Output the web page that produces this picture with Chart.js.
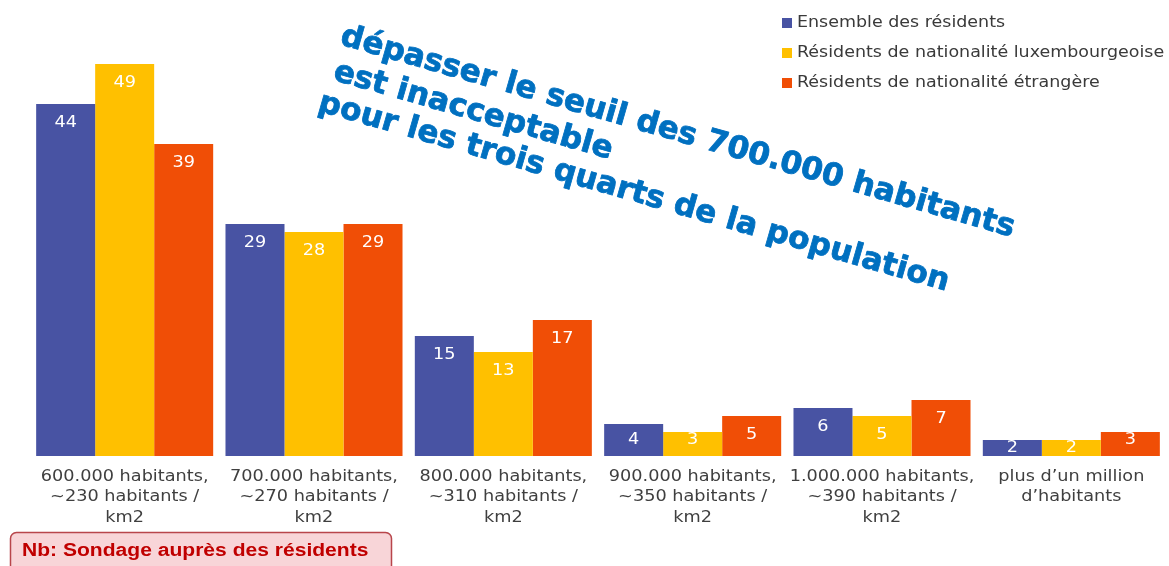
<!DOCTYPE html>
<html>
<head>
<meta charset="utf-8">
<script src="https://cdn.jsdelivr.net/npm/chart.js@4/dist/chart.umd.min.js"></script>
<style>
  html, body { margin: 0; padding: 0; background: #fff; }
  #wrap { position: relative; width: 1169px; height: 566px; }
</style>
</head>
<body>
<div id="wrap"><canvas id="chart" width="1169" height="566"></canvas></div>
<script>
const CATEGORIES = [
  ["600.000 habitants,", "~230 habitants /", "km2"],
  ["700.000 habitants,", "~270 habitants /", "km2"],
  ["800.000 habitants,", "~310 habitants /", "km2"],
  ["900.000 habitants,", "~350 habitants /", "km2"],
  ["1.000.000 habitants,", "~390 habitants /", "km2"],
  ["plus d\u2019un million", "d\u2019habitants"],
];
const SERIES_NAMES = [
  "Ensemble des résidents",
  "Résidents de nationalité luxembourgeoise",
  "Résidents de nationalité étrangère",
];
const ENSEMBLE = [44, 29, 15, 4, 6, 2];
const LUXEMBOURGEOIS = [49, 28, 13, 3, 5, 2];
const ETRANGERS = [39, 29, 17, 5, 7, 3];
const COLORS = ["#4853A3", "#FFC000", "#F04E06"];

const ANNOTATION = [
  "dépasser le seuil des 700.000 habitants",
  "est inacceptable",
  "pour les trois quarts de la population",
];
const NOTE = "Nb: Sondage auprès des résidents";

const FONT = "'DejaVu Sans', Verdana, sans-serif";
const STRETCH = 1.18; // le texte de l'original est élargi horizontalement

// texte élargi horizontalement autour de (x, y)
function wideText(ctx, txt, x, y, align, k){
  ctx.save();
  ctx.translate(x, y);
  ctx.scale(k || STRETCH, 1);
  ctx.textAlign = align || "left";
  ctx.fillText(txt, 0, 0);
  ctx.restore();
}

// valeurs blanches dans le haut des barres
const valueLabels = {
  id: "valueLabels",
  afterDatasetsDraw(chart){
    const ctx = chart.ctx;
    const base = chart.scales.y.getPixelForValue(0);
    ctx.save();
    ctx.fillStyle = "#fff";
    ctx.font = `15px ${FONT}`;
    ctx.textBaseline = "middle";
    chart.data.datasets.forEach((ds, i) => {
      chart.getDatasetMeta(i).data.forEach((bar, j) => {
        const y = Math.min(bar.y + 19, Math.max(bar.y + 8, base - 16));
        wideText(ctx, String(ds.data[j]), bar.x, y, "center");
      });
    });
    ctx.restore();
  }
};

// étiquettes de l'axe x, légende, texte incliné, encadré
const extras = {
  id: "extras",
  afterDraw(chart){
    const ctx = chart.ctx;
    const xs = chart.scales.x;
    ctx.save();

    // x labels
    ctx.font = `15px ${FONT}`;
    ctx.fillStyle = "#3f3f3f";
    ctx.textBaseline = "middle";
    CATEGORIES.forEach((lines, i) => {
      const cx = xs.getPixelForValue(i);
      lines.forEach((ln, k) => wideText(ctx, ln, cx, 477 + k * 20.5, "center"));
    });

    // legend
    const rows = [23, 53, 83];
    SERIES_NAMES.forEach((name, i) => {
      ctx.fillStyle = COLORS[i];
      ctx.fillRect(782, rows[i] - 5, 10, 10);
      ctx.fillStyle = "#3a3a3a";
      wideText(ctx, name, 797, rows[i], "left", 1.165);
    });

    // rotated annotation
    ctx.save();
    ctx.translate(339, 44);
    ctx.rotate(16 * Math.PI / 180);
    ctx.font = `bold 28px ${FONT}`;
    const w = ctx.measureText(ANNOTATION[0]).width;
    const size = 28 * 700 / w;
    ctx.font = `bold ${size.toFixed(1)}px ${FONT}`;
    ctx.fillStyle = "#0070C0";
    ctx.strokeStyle = "#0070C0";
    ctx.lineWidth = 0.8;
    ctx.lineJoin = "round";
    ctx.textBaseline = "alphabetic";
    const offs = [[0, 0], [3, 36], [-3, 70]];
    ANNOTATION.forEach((ln, k) => {
      ctx.fillText(ln, offs[k][0], offs[k][1]);
      ctx.strokeText(ln, offs[k][0], offs[k][1]);
    });
    ctx.restore();

    // note box
    ctx.beginPath();
    ctx.roundRect(10.5, 532.5, 381, 50, 6);
    ctx.fillStyle = "#F8D5D8";
    ctx.fill();
    ctx.strokeStyle = "#B8464B";
    ctx.lineWidth = 1.5;
    ctx.stroke();
    ctx.fillStyle = "#C00000";
    ctx.font = "bold 18px 'Liberation Sans', Arial, sans-serif";
    ctx.textBaseline = "alphabetic";
    ctx.save();
    ctx.translate(22, 556);
    ctx.scale(1.17, 1);
    ctx.fillText(NOTE, 0, 0);
    ctx.restore();

    ctx.restore();
  }
};

new Chart(document.getElementById("chart"), {
  type: "bar",
  data: {
    labels: CATEGORIES,
    datasets: [
      { label: SERIES_NAMES[0], data: ENSEMBLE, backgroundColor: COLORS[0] },
      { label: SERIES_NAMES[1], data: LUXEMBOURGEOIS, backgroundColor: COLORS[1] },
      { label: SERIES_NAMES[2], data: ETRANGERS, backgroundColor: COLORS[2] },
    ]
  },
  options: {
    responsive: false,
    animation: false,
    layout: { padding: { left: 30, right: 3, top: 0, bottom: 0 } },
    datasets: { bar: { categoryPercentage: 0.935, barPercentage: 1.0 } },
    plugins: { legend: { display: false }, tooltip: { enabled: false } },
    scales: {
      x: {
        grid: { display: false },
        border: { display: false },
        ticks: { display: false },
        afterFit(scale){ scale.height = 110; }
      },
      y: { display: false, min: 0, max: 57 }
    }
  },
  plugins: [valueLabels, extras]
});
</script>
</body>
</html>
